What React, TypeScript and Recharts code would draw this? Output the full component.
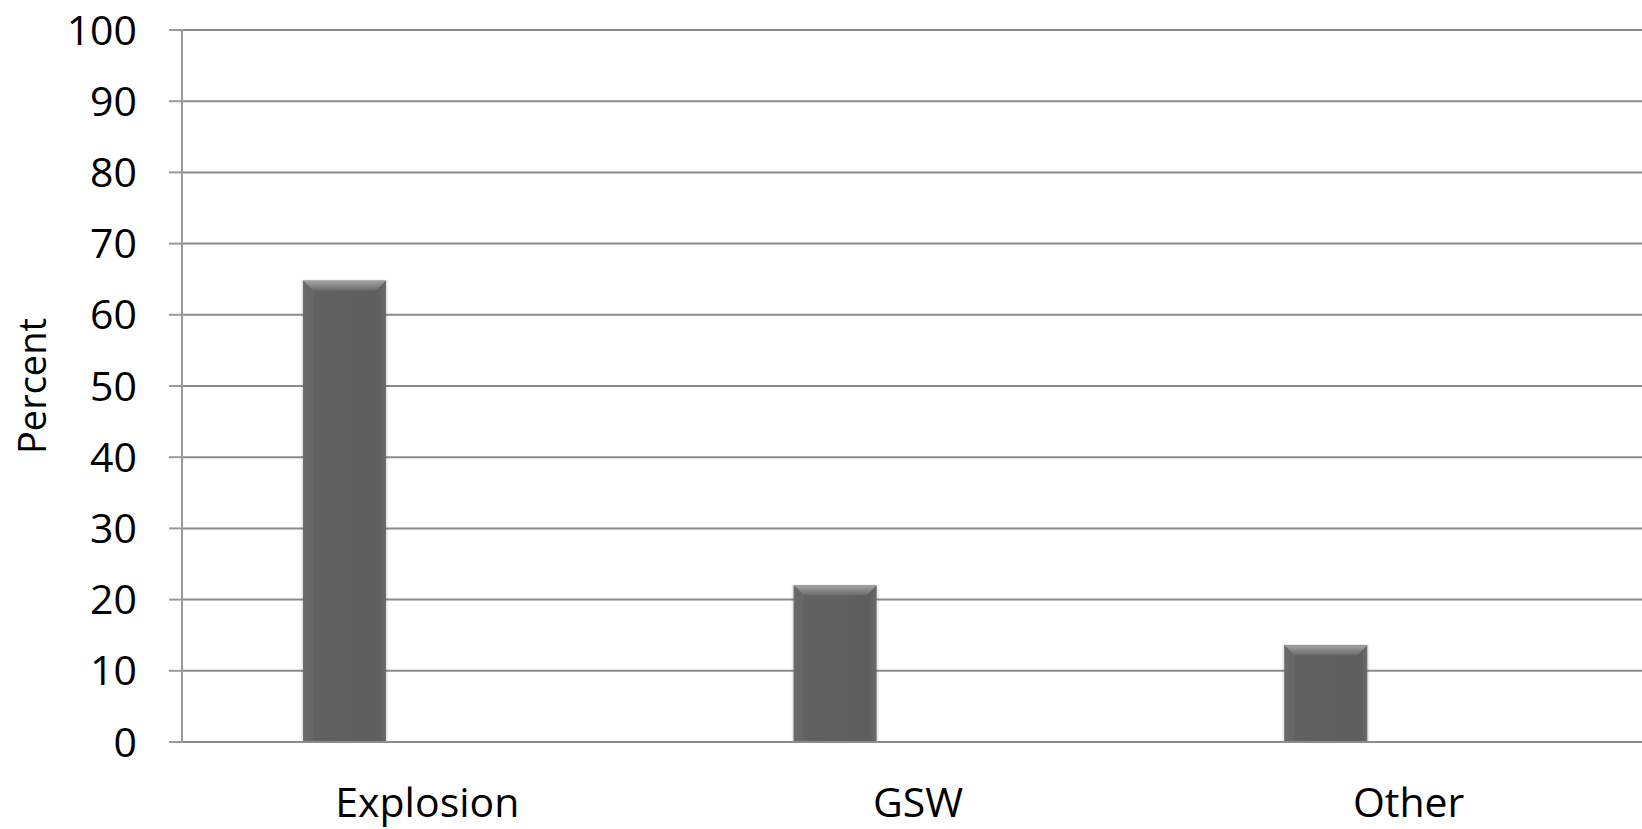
import { BarChart, Bar, XAxis, YAxis, CartesianGrid, Label } from "recharts";

const causes = ["Explosion", "GSW", "Other"];
const percents = [64.8, 22, 13.6];
const yTicks = [0, 10, 20, 30, 40, 50, 60, 70, 80, 90, 100];

const data = causes.map((cause, i) => ({ cause, percent: percents[i] }));

const FONT = "'Open Sans', sans-serif";
const GRID = "#8c8c8c";

// Excel-style bevelled bar, drawn as the first slot of a 3-wide cluster
function BevelBar(props: any) {
  const { x, y, width, height } = props;
  if (!height || height <= 0) return null;
  const bx = x - width;
  const bevel = Math.min(10, height / 2);
  return (
    <g>
      <rect x={bx - 2} y={y - 1} width={width + 4} height={height + 1} fill="#000" opacity={0.08} />
      <rect x={bx} y={y} width={width} height={height} fill="url(#barBody)" />
      <polygon
        points={`${bx},${y} ${bx + width},${y} ${bx + width - bevel},${y + bevel} ${bx + bevel},${y + bevel}`}
        fill="url(#barTop)"
      />
      <polygon
        points={`${bx},${y} ${bx + bevel},${y + bevel} ${bx + bevel},${y + height} ${bx},${y + height}`}
        fill="#6a6a6a"
        opacity={0.6}
      />
    </g>
  );
}

export default function App() {
  return (
    <div style={{ position: "absolute", left: 0, top: 0, width: 1642, height: 829, overflow: "hidden", background: "#fff" }}>
      <BarChart
        width={1654}
        height={829}
        data={data}
        margin={{ top: 30, right: 0, bottom: 0, left: 0 }}
        barSize={83}
      >
        <defs>
          <linearGradient id="barBody" x1="0" y1="0" x2="1" y2="0">
            <stop offset="0" stopColor="#6b6b6b" />
            <stop offset="0.08" stopColor="#616161" />
            <stop offset="0.92" stopColor="#5f5f5f" />
            <stop offset="1" stopColor="#6b6b6b" />
          </linearGradient>
          <linearGradient id="barTop" x1="0" y1="0" x2="0" y2="1">
            <stop offset="0" stopColor="#a4a4a4" />
            <stop offset="1" stopColor="#6a6a6a" />
          </linearGradient>
        </defs>
        <CartesianGrid vertical={false} stroke={GRID} strokeWidth={2} />
        <XAxis
          dataKey="cause"
          height={87}
          tickLine={false}
          tickSize={0}
          tickMargin={46}
          axisLine={{ stroke: GRID, strokeWidth: 2 }}
          tick={{ fontSize: 41, fill: "#000", fontFamily: FONT }}
          interval={0}
        />
        <YAxis
          width={182}
          domain={[0, 100]}
          ticks={yTicks}
          interval={0}
          tickSize={13}
          tickMargin={32}
          tickLine={{ stroke: "#999", strokeWidth: 2 }}
          axisLine={{ stroke: "#999", strokeWidth: 2 }}
          tick={{ fontSize: 41, fill: "#000", fontFamily: FONT }}
        >
          <Label
            value="Percent"
            content={({ viewBox }: any) => {
              const cy = viewBox.y + viewBox.height / 2;
              return (
                <text
                  x={31}
                  y={cy}
                  transform={`rotate(-90, 31, ${cy})`}
                  textAnchor="middle"
                  dominantBaseline="central"
                  fontSize={38}
                  fontFamily={FONT}
                  fill="#000"
                >
                  Percent
                </text>
              );
            }}
          />
        </YAxis>
        <Bar dataKey="percent" isAnimationActive={false} shape={<BevelBar />} />
      </BarChart>
    </div>
  );
}
